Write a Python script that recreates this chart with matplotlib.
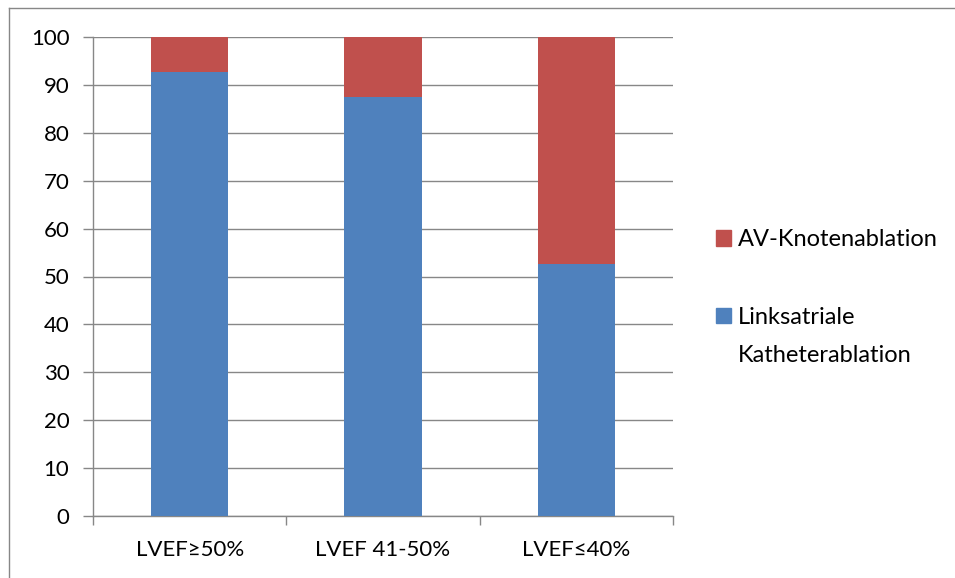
import matplotlib.pyplot as plt
from matplotlib.lines import Line2D
from matplotlib.patches import Patch

kategorien = ['LVEF≥50%', 'LVEF 41-50%', 'LVEF≤40%']
linksatrial = [92.6, 87.4, 52.7]
av_knoten = [100 - v for v in linksatrial]
yticks = list(range(0, 101, 10))

blau = '#4F81BD'
rot = '#C0504D'
grau = '#878787'
fs = 16
fs_leg = 17

plt.rcParams['font.family'] = ['Lato', 'DejaVu Sans']

fig = plt.figure(figsize=(9.55, 5.78), dpi=100)
ax = fig.add_axes([93 / 955, 62 / 578, 580 / 955, 479 / 578])

x = range(len(kategorien))
ax.bar(x, linksatrial, width=0.4, color=blau, zorder=3)
ax.bar(x, av_knoten, bottom=linksatrial, width=0.4, color=rot, zorder=3)

ax.set_xlim(-0.5, 2.5)
ax.set_ylim(0, 100)
ax.set_yticks(yticks)
ax.set_yticklabels([str(t) for t in yticks], fontsize=fs)
ax.set_xticks(list(x))
ax.set_xticklabels(kategorien, fontsize=fs)
ax.set_xticks([-0.5, 0.5, 1.5, 2.5], minor=True)
ax.tick_params(axis='x', which='major', length=0, pad=17)
ax.tick_params(axis='x', which='minor', length=6.5, color=grau, width=1)
ax.tick_params(axis='y', length=7, color=grau, width=1, pad=10)

ax.yaxis.grid(True, color=grau, linewidth=1, zorder=0)
for s in ['top', 'right']:
    ax.spines[s].set_visible(False)
for s in ['left', 'bottom']:
    ax.spines[s].set_color(grau)
    ax.spines[s].set_linewidth(1)

handles = [Patch(color=rot), Patch(color=blau)]
labels = ['AV-Knotenablation', 'Linksatriale']
fig.legend(handles, labels, loc='upper left', bbox_to_anchor=(716 / 955, 1 - 229 / 578),
           frameon=False, fontsize=fs_leg, handlelength=0.64, handleheight=0.64,
           handletextpad=0.3, labelspacing=2.4, borderaxespad=0, borderpad=0)
# zweite Zeile der Legende
fig.text(738 / 955, 1 - 355 / 578, 'Katheterablation', fontsize=fs_leg, va='center', ha='left')

# Rahmen um das Diagramm
fig.add_artist(Line2D([9 / 955, 1], [1 - 8 / 578, 1 - 8 / 578], color=grau, lw=1))
fig.add_artist(Line2D([9 / 955, 9 / 955], [0, 1 - 8 / 578], color=grau, lw=1))

fig.savefig('out.png', dpi=100)
